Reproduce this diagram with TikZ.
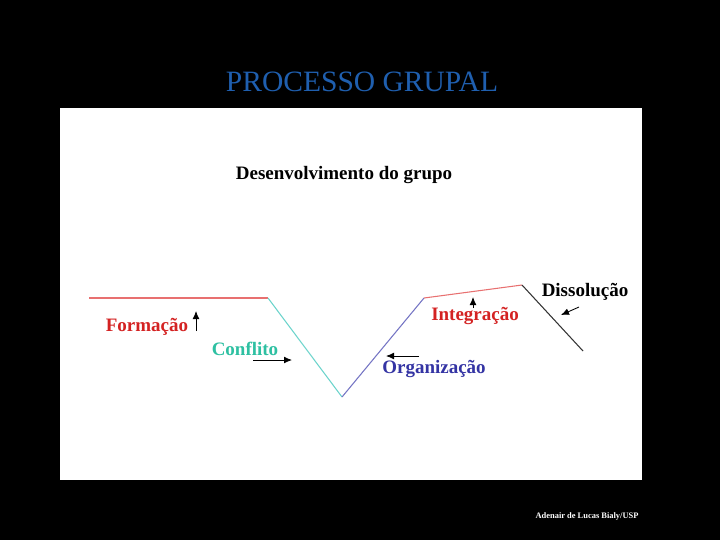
\documentclass[tikz,border=0pt]{standalone}
\usepackage{fontspec}
\setmainfont{Liberation Serif}
\usetikzlibrary{arrows.meta,positioning}
\usepackage{xcolor}
\definecolor{titleblue}{HTML}{1F5FAF}
\definecolor{formred}{HTML}{D42222}
\definecolor{confteal}{HTML}{2EC0A2}
\definecolor{orgblue}{HTML}{3434A4}
\definecolor{lred}{HTML}{E87070}
\definecolor{lteal}{HTML}{6CD4CC}
\definecolor{lblue}{HTML}{7474C4}
\definecolor{ldark}{HTML}{333333}
\tikzset{
  phaselabel/.style={font=\fontsize{13.5}{16}\selectfont\bfseries,inner sep=0pt},
  curve/.style={line width=0.75pt},
  pointer/.style={-{Latex[length=2mm,width=1.7mm]},draw=black,line width=0.6pt}
}
\begin{document}
\begin{tikzpicture}[x=0.025cm,y=-0.025cm]
  \fill[black] (0,0) rectangle (720,540);
  \fill[white] (60,108) rectangle (642,480);
  \useasboundingbox (0,0) rectangle (720,540);
  % titles
  \node[text=titleblue,font=\fontsize{21}{24}\selectfont,inner sep=0pt] (title) at (362,82) {PROCESSO GRUPAL};
  \node[phaselabel] (sub) at (344,175) {Desenvolvimento do grupo};
  % curve points
  \coordinate (p0) at (89,298);
  \coordinate (p1) at (268,298);
  \coordinate (p2) at (342,397);
  \coordinate (p3) at (424,298);
  \coordinate (p4) at (522,285);
  \coordinate (p5) at (583,351);
  \draw[curve,lred] (p0) -- (p1);
  \draw[curve,lteal] (p1) -- (p2);
  \draw[curve,lblue] (p2) -- (p3);
  \draw[curve,lred] (p3) -- (p4);
  \draw[curve,ldark] (p4) -- (p5);
  % phase labels
  \node[phaselabel,text=formred] (form) at (147,327) {Formação};
  \node[phaselabel,text=confteal] (conf) at (245,349) {Conflito};
  \node[phaselabel,text=orgblue] (org) at (434,369) {Organização};
  \node[phaselabel,text=formred] (integ) at (475,316) {Integração};
  \node[phaselabel] (diss) at (585,292) {Dissolução};
  % pointers
  \coordinate (fa) at (196,331); \coordinate (fb) at (196,311);
  \coordinate (ca) at (253,360); \coordinate (cb) at (292,360);
  \coordinate (oa) at (419,356); \coordinate (ob) at (386,356);
  \coordinate (ia) at (473,308); \coordinate (ib) at (473,297);
  \coordinate (da) at (579,307); \coordinate (db) at (561,315);
  \draw[pointer] (fa) -- (fb);
  \draw[pointer] (ca) -- (cb);
  \draw[pointer] (oa) -- (ob);
  \draw[pointer] (ia) -- (ib);
  \draw[pointer] (da) -- (db);
  % footer
  \node[text=white,font=\fontsize{6}{7}\selectfont\bfseries,inner sep=0pt] (credit) at (587,516) {Adenair de Lucas Bialy/USP};
\end{tikzpicture}
\end{document}
